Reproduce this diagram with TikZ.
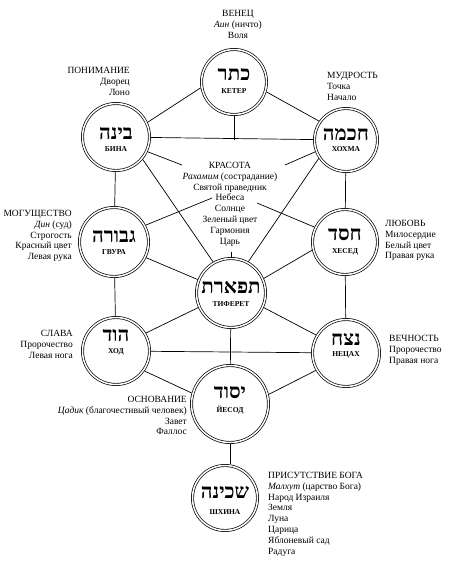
\documentclass[tikz,border=0pt]{standalone}
\usepackage{fontspec}
\setmainfont{Liberation Serif}
\newfontfamily\hebfont[Script=Hebrew]{Liberation Serif}
\TeXXeTstate=1
\usetikzlibrary{calc}
\begin{document}
\begin{tikzpicture}[x=1pt,y=-1pt,
  sef/.style={circle, draw, double, double distance=1.5pt, line width=0.7pt, inner sep=0pt, outer sep=1.45pt},
  heb/.style={font=\hebfont\bfseries\fontsize{20.5}{22}\selectfont, inner sep=0pt},
  lbl/.style={font=\bfseries\fontsize{7.5}{9}\selectfont, inner sep=0pt},
  info/.style={font=\fontsize{9.5}{10.8}\selectfont, inner sep=0pt},
  infoL/.style={info, align=left, anchor=north west},
  infoR/.style={info, align=right, anchor=north east},
  infoC/.style={info, align=center, anchor=north},
  conn/.style={line width=0.7pt}]
\fill[white] (0,0) rectangle (450,565);
\useasboundingbox (0,0) rectangle (450,565);

% sefirot circles
\node[sef, minimum size=65pt] (keter) at (234,82) {};
\node[sef, minimum size=67pt] (bina) at (116,137) {};
\node[sef, minimum size=63pt] (chokhmah) at (346,140) {};
\node[sef, minimum size=69pt] (gevurah) at (114,242) {};
\node[sef, minimum size=65pt] (chesed) at (345,242) {};
\node[sef, minimum size=69pt] (tiferet) at (231,293) {};
\node[sef, minimum size=67pt] (hod) at (116,351) {};
\node[sef, minimum size=67pt] (netzach) at (346,353) {};
\node[sef, minimum size=77pt] (yesod) at (230,404) {};
\node[sef, minimum size=65pt] (shekhinah) at (225,498) {};

% Hebrew names
\node[heb] (keterH) at (234,75) {\beginR כתר\endR};
\node[heb] (binaH) at (116,134) {\beginR בינה\endR};
\node[heb] (chokhmahH) at (346,135) {\beginR חכמה\endR};
\node[heb] (gevurahH) at (114,237) {\beginR גבורה\endR};
\node[heb] (chesedH) at (345,235) {\beginR חסד\endR};
\node[heb] (tiferetH) at (231,288) {\beginR תפארת\endR};
\node[heb] (hodH) at (116,336) {\beginR הוד\endR};
\node[heb] (netzachH) at (346,340) {\beginR נצח\endR};
\node[heb] (yesodH) at (230,393) {\beginR יסוד\endR};
\node[heb] (shekhinahH) at (225,493) {\beginR שכינה\endR};

% Russian names
\node[lbl] (keterL) at (234,91) {КЕТЕР};
\node[lbl] (binaL) at (116,149) {БИНА};
\node[lbl] (chokhmahL) at (346,149) {ХОХМА};
\node[lbl] (gevurahL) at (114,252) {ГВУРА};
\node[lbl] (chesedL) at (345,252) {ХЕСЕД};
\node[lbl] (tiferetL) at (231,304) {ТИФЕРЕТ};
\node[lbl] (hodL) at (116,352) {ХОД};
\node[lbl] (netzachL) at (346,355) {НЕЦАХ};
\node[lbl] (yesodL) at (230,410) {ЙЕСОД};
\node[lbl] (shekhinahL) at (225,512) {ШХИНА};

% attribute texts
\node[infoC] (keterI) at (238,10) {ВЕНЕЦ\\\textit{Аин} (ничто)\\Воля};
\node[infoR] (binaI) at (130,67) {ПОНИМАНИЕ\\Дворец\\Лоно};
\node[infoL] (chokhmahI) at (327,72) {МУДРОСТЬ\\Точка\\Начало};
\node[infoC] (tiferetI) at (230,162) {КРАСОТА\\\textit{Рахамим} (сострадание)\\Святой праведник\\Небеса\\Солнце\\Зеленый цвет\\Гармония\\Царь};
\node[infoR] (gevurahI) at (72,210) {МОГУЩЕСТВО\\\textit{Дин} (суд)\\Строгость\\Красный цвет\\Левая рука};
\node[infoL] (chesedI) at (385,220) {ЛЮБОВЬ\\Милосердие\\Белый цвет\\Правая рука};
\node[infoR] (hodI) at (73,330) {СЛАВА\\Пророчество\\Левая нога};
\node[infoL] (netzachI) at (389,335) {ВЕЧНОСТЬ\\Пророчество\\Правая нога};
\node[infoR] (yesodI) at (187,396) {ОСНОВАНИЕ\\\textit{Цадик} (благочестивый человек)\\Завет\\Фаллос};
\node[infoL] (shekhinahI) at (268,472) {ПРИСУТСТВИЕ БОГА\\\textit{Малхут} (царство Бога)\\Народ Израиля\\Земля\\Луна\\Царица\\Яблоневый сад\\Радуга};

% free ends of interrupted paths
\coordinate (kt) at (234,140);
\coordinate (ts) at (231,252);
\coordinate (bc1) at (182,165);
\coordinate (bc2) at (257,203);
\coordinate (cg1) at (285,165);
\coordinate (cg2) at (212,198);

% connectors
\draw[conn] (bina.25) -- (keter.190);
\draw[conn] (keter.343) -- (chokhmah.145);
\draw[conn] (bina) -- (chokhmah);
\draw[conn] (keter.south) -- (kt);
\draw[conn] (ts) -- (tiferet.north);
\draw[conn] (bina) -- (gevurah);
\draw[conn] (chokhmah) -- (chesed);
\draw[conn] (bina.320) -- (tiferet.120);
\draw[conn] (chokhmah.214) -- (tiferet.61);
\draw[conn] (bina.335) -- (bc1);
\draw[conn] (chesed.154) -- (bc2);
\draw[conn] (chokhmah.201) -- (cg1);
\draw[conn] (gevurah.28) -- (cg2);
\draw[conn] (gevurah.334) -- (tiferet.158);
\draw[conn] (chesed.194) -- (tiferet.24);
\draw[conn] (gevurah) -- (hod);
\draw[conn] (chesed) -- (netzach);
\draw[conn] (hod.31) -- (tiferet.204);
\draw[conn] (netzach.149) -- (tiferet.336);
\draw[conn] (hod) -- (netzach);
\draw[conn] (tiferet) -- (yesod);
\draw[conn] (hod.325) -- (yesod.164);
\draw[conn] (netzach.210) -- (yesod.14);
\draw[conn] (yesod.south) -- (yesod.south |- shekhinah.north);
\end{tikzpicture}
\end{document}
